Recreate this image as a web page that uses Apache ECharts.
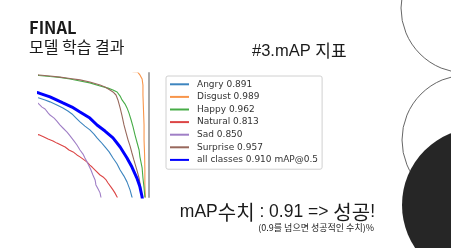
<!DOCTYPE html>
<html>
<head>
<meta charset="utf-8">
<script src="https://cdn.jsdelivr.net/npm/echarts@6/dist/echarts.min.js"></script>
<style>
html,body{margin:0;padding:0;background:#fff;}
#c{width:451px;height:248px;}
</style>
</head>
<body>
<div id="c"></div>
<script>
// ---- data: [recall, precision] points of each PR curve (visible, cropped part) ----
const classNames = ['Angry', 'Disgust', 'Happy', 'Natural', 'Sad', 'Surprise'];
const apValues = [0.891, 0.989, 0.962, 0.813, 0.850, 0.957];
const allClassesAP = 0.910;

const angry = [[0.567,0.913],[0.600,0.904],[0.622,0.897],[0.640,0.890],[0.665,0.879],[0.687,0.868],[0.705,0.857],[0.720,0.846],[0.735,0.831],[0.749,0.817],[0.767,0.802],[0.785,0.788],[0.800,0.773],[0.811,0.759],[0.825,0.744],[0.840,0.726],[0.855,0.708],[0.869,0.686],[0.884,0.664],[0.895,0.642],[0.909,0.620],[0.920,0.599],[0.931,0.570],[0.938,0.544],[0.945,0.515]];
const disgust = [[0.940,1.000],[0.958,0.999],[0.962,0.993],[0.967,0.988],[0.975,0.973],[0.978,0.951],[0.978,0.915],[0.980,0.860],[0.982,0.806],[0.982,0.751],[0.984,0.697],[0.985,0.642],[0.985,0.588],[0.987,0.544],[0.989,0.515]];
const happy = [[0.567,0.990],[0.600,0.986],[0.640,0.982],[0.676,0.979],[0.713,0.973],[0.749,0.966],[0.785,0.959],[0.822,0.948],[0.851,0.940],[0.869,0.933],[0.884,0.926],[0.895,0.911],[0.902,0.897],[0.913,0.882],[0.920,0.868],[0.927,0.850],[0.935,0.824],[0.942,0.799],[0.949,0.770],[0.956,0.744],[0.964,0.715],[0.967,0.690],[0.975,0.650],[0.978,0.613],[0.982,0.577],[0.985,0.544],[0.989,0.515]];
const natural = [[0.567,0.780],[0.600,0.770],[0.618,0.762],[0.633,0.755],[0.651,0.748],[0.665,0.740],[0.680,0.733],[0.695,0.726],[0.709,0.715],[0.724,0.708],[0.738,0.697],[0.749,0.690],[0.764,0.679],[0.775,0.671],[0.785,0.660],[0.793,0.653],[0.804,0.642],[0.811,0.635],[0.822,0.624],[0.833,0.617],[0.844,0.606],[0.851,0.595],[0.862,0.580],[0.869,0.570],[0.876,0.559],[0.884,0.544],[0.891,0.515]];
const sad = [[0.578,0.900],[0.600,0.882],[0.611,0.871],[0.622,0.864],[0.633,0.850],[0.640,0.842],[0.655,0.831],[0.665,0.820],[0.676,0.806],[0.687,0.795],[0.702,0.780],[0.713,0.766],[0.727,0.748],[0.738,0.733],[0.749,0.715],[0.760,0.700],[0.767,0.686],[0.775,0.671],[0.782,0.657],[0.789,0.642],[0.796,0.624],[0.804,0.606],[0.807,0.588],[0.815,0.573],[0.822,0.559],[0.825,0.544],[0.829,0.515]];
const surprise = [[0.567,0.990],[0.600,0.988],[0.640,0.984],[0.676,0.980],[0.713,0.975],[0.749,0.970],[0.785,0.962],[0.822,0.951],[0.840,0.944],[0.858,0.933],[0.869,0.926],[0.880,0.915],[0.887,0.897],[0.895,0.868],[0.902,0.839],[0.909,0.806],[0.916,0.780],[0.924,0.751],[0.931,0.730],[0.938,0.704],[0.945,0.679],[0.956,0.642],[0.964,0.613],[0.967,0.595],[0.971,0.570],[0.975,0.544],[0.978,0.515]];
const allClasses = [[0.567,0.931],[0.600,0.922],[0.640,0.908],[0.687,0.886],[0.720,0.871],[0.749,0.853],[0.785,0.831],[0.811,0.806],[0.840,0.784],[0.869,0.759],[0.895,0.726],[0.920,0.686],[0.938,0.653],[0.956,0.613],[0.967,0.581],[0.975,0.544],[0.978,0.515]];

const classCurves = [angry, disgust, happy, natural, sad, surprise];
const classColors = ['#3d85bf', '#f8954a', '#47ac47', '#dc4545', '#a07fc6', '#98685c'];

const chart = echarts.init(document.getElementById('c'), null, {renderer: 'canvas'});

const series = classNames.map((n, i) => ({
  name: n + ' ' + apValues[i].toFixed(3),
  type: 'line',
  data: classCurves[i],
  symbol: 'none',
  clip: true,
  lineStyle: {width: 1.1, color: classColors[i]},
  itemStyle: {color: classColors[i]},
  z: 2
}));
series.push({
  name: 'all classes ' + allClassesAP.toFixed(3) + ' mAP@0.5',
  type: 'line',
  data: allClasses,
  symbol: 'none',
  clip: true,
  lineStyle: {width: 3, color: '#0000ff'},
  itemStyle: {color: '#0000ff'},
  z: 3
});

const cjk = '"Noto Sans CJK KR", "Noto Sans", sans-serif';
const lat = '"Liberation Sans", "Noto Sans CJK KR", sans-serif';

chart.setOption({
  animation: false,
  backgroundColor: '#fff',
  grid: {left: 39, top: 73, width: 110, height: 124},
  xAxis: {type: 'value', min: 0.6, max: 1.0, show: false},
  yAxis: {
    type: 'value', min: 0.544, max: 0.995, position: 'right',
    axisLine: {show: true, lineStyle: {color: '#a8a8a8', width: 2}},
    axisTick: {show: false}, axisLabel: {show: false}, splitLine: {show: false}
  },
  legend: {
    orient: 'vertical',
    left: 166, top: 76,
    width: 155,
    padding: [2, 4, 3, 3],
    backgroundColor: '#fff',
    borderColor: '#d0d0d0', borderWidth: 1, borderRadius: 2,
    itemWidth: 19, itemHeight: 8, itemGap: 0,
    itemStyle: {opacity: 0},
    textStyle: {fontFamily: '"DejaVu Sans", sans-serif', fontSize: 9, color: '#333', lineHeight: 12.6, padding: [0,0,0,3]},
    data: series.map(s => s.name)
  },
  series: series,
  graphic: [
    {type: 'circle', shape: {cx: 466, cy: 8, r: 65}, style: {fill: 'none', stroke: '#666', lineWidth: 1}, z: 1},
    {type: 'circle', shape: {cx: 467, cy: 140, r: 65}, style: {fill: 'none', stroke: '#666', lineWidth: 1}, z: 1},
    {type: 'circle', shape: {cx: 479, cy: 205, r: 77}, style: {fill: '#262626', stroke: 'none'}, z: 2},
    {type: 'text', x: 29, y: 28, style: {text: 'FINAL', font: 'bold 16.5px ' + cjk, fill: '#1a1a1a', verticalAlign: 'middle'}},
    {type: 'text', x: 29, y: 47, style: {text: '모델 학습 결과', font: '16px ' + cjk, fill: '#1a1a1a', verticalAlign: 'middle'}},
    {type: 'text', x: 252, y: 51, style: {
      text: '{l|#3.mAP }{k|지표}', fill: '#1a1a1a', verticalAlign: 'middle',
      rich: {l: {fontFamily: lat, fontSize: 16.5, fill: '#1a1a1a'}, k: {fontFamily: cjk, fontSize: 17, fill: '#1a1a1a'}}
    }},
    {type: 'text', x: 375, y: 212, style: {
      text: '{l|mAP}{k|수치}{l| : 0.91 => }{k|성공}{l|!}', fill: '#1a1a1a', verticalAlign: 'middle', align: 'right',
      rich: {l: {fontFamily: lat, fontSize: 17.5, fill: '#1a1a1a'}, k: {fontFamily: cjk, fontSize: 20, fill: '#1a1a1a'}}
    }},
    {type: 'text', x: 374, y: 228, style: {text: '(0.9를 넘으면 성공적인 수치)%', font: '9px ' + cjk, fill: '#1a1a1a', verticalAlign: 'middle', align: 'right'}}
  ]
});
</script>
</body>
</html>
